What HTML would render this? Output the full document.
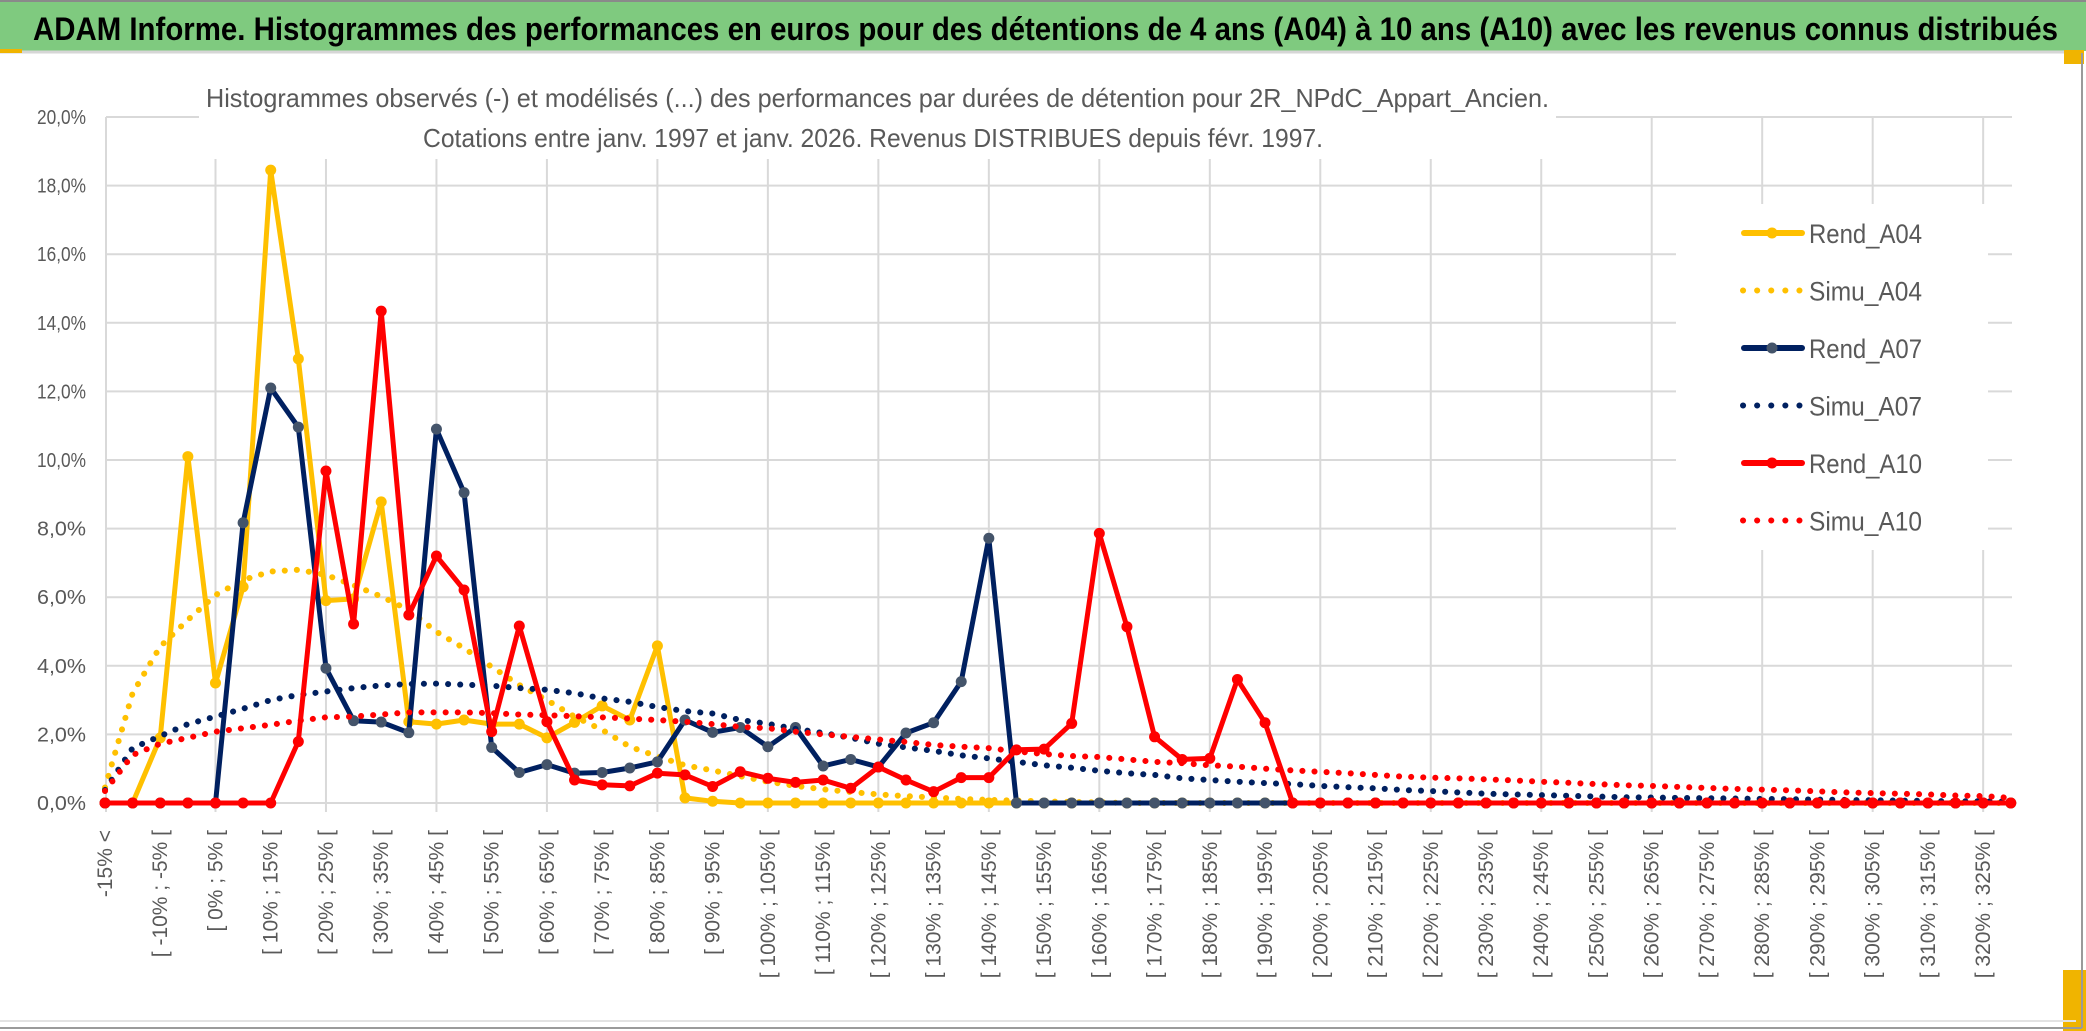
<!DOCTYPE html>
<html><head><meta charset="utf-8"><style>
html,body{margin:0;padding:0;background:#fff;}
svg{display:block;font-family:"Liberation Sans",sans-serif;}
</style></head><body>
<svg id="chart" width="2086" height="1031" viewBox="0 0 2086 1031">
<rect x="0" y="0" width="2086" height="1031" fill="#ffffff"/>
<rect x="0" y="0" width="2086" height="51" fill="#7fca7f"/>
<line x1="0" y1="1" x2="2086" y2="1" stroke="#8a8a8a" stroke-width="2"/>
<line x1="0" y1="52" x2="2082" y2="52" stroke="#d6d6d6" stroke-width="3"/>
<rect x="0" y="49" width="22" height="4" fill="#f0b400"/>
<rect x="2064" y="50" width="20" height="14" fill="#f0b400"/>
<rect x="2063" y="970" width="23" height="61" fill="#f0b400"/>
<line x1="2082" y1="53" x2="2082" y2="1028" stroke="#9a9a9a" stroke-width="2"/>
<line x1="0" y1="1028" x2="2082" y2="1028" stroke="#9a9a9a" stroke-width="2"/>
<line x1="0" y1="1021" x2="2076" y2="1021" stroke="#e2e2e2" stroke-width="2"/>
<text x="33" y="40" font-size="32" font-weight="bold" fill="#000" textLength="2025" lengthAdjust="spacingAndGlyphs">ADAM Informe. Histogrammes des performances en euros pour des détentions de 4 ans (A04) à 10 ans (A10) avec les revenus connus distribués</text>
<g id="grid"></g>
<rect x="199" y="60" width="1357" height="99" fill="#fff"/>
<text x="206" y="107" font-size="26" fill="#595959" textLength="1343" lengthAdjust="spacingAndGlyphs">Histogrammes observés (-) et modélisés (...) des performances par durées de détention pour 2R_NPdC_Appart_Ancien.</text>
<text x="423" y="147" font-size="26" fill="#595959" textLength="900" lengthAdjust="spacingAndGlyphs">Cotations entre janv. 1997 et janv. 2026. Revenus DISTRIBUES depuis févr. 1997.</text>
<g id="yaxis"></g>
<g id="xaxis"></g>
<g id="series"></g>
<g id="legend"></g>
</svg>
<script>
const categoryCount = 70;
const yTicks = [0,2,4,6,8,10,12,14,16,18,20];
const rendA04 = [0,0,1.9,10.1,3.5,6.3,18.45,12.95,5.9,5.95,8.78,2.37,2.3,2.42,2.3,2.3,1.9,2.35,2.83,2.42,4.58,0.15,0.05];
const simuA04 = [0.45,3.2,4.56,5.34,6.06,6.5,6.75,6.8,6.65,6.35,6.02,5.63,4.99,4.51,3.97,3.44,3.0,2.52,2.13,1.64,1.36,1.1,0.95,0.78,0.62,0.5,0.4,0.32,0.25,0.2,0.16,0.12,0.09,0.07,0.05,0.03,0.02];
const rendA07 = [0,0,0,0,0,8.17,12.1,10.96,3.93,2.4,2.36,2.05,10.9,9.05,1.62,0.89,1.12,0.87,0.89,1.02,1.2,2.42,2.06,2.2,1.64,2.2,1.08,1.27,1.05,2.04,2.34,3.54,7.72,0];
const simuA07 = [0.38,1.6,1.95,2.3,2.52,2.75,3.0,3.15,3.25,3.35,3.43,3.47,3.48,3.45,3.42,3.35,3.3,3.2,3.05,2.95,2.8,2.68,2.61,2.42,2.31,2.16,2.04,1.9,1.73,1.62,1.52,1.39,1.3,1.2,1.1,1.03,0.94,0.87,0.82,0.72,0.67,0.62,0.58,0.55,0.5,0.46,0.43,0.38,0.35,0.31,0.27,0.25,0.23,0.21,0.19,0.17,0.16,0.15,0.14,0.13,0.12,0.11,0.1,0.09,0.08,0.07,0.06,0.05,0.05,0.04];
const rendA10 = [0,0,0,0,0,0,0,1.79,9.68,5.22,14.34,5.48,7.2,6.21,2.08,5.16,2.37,0.67,0.53,0.5,0.87,0.82,0.48,0.91,0.72,0.6,0.67,0.43,1.05,0.67,0.33,0.74,0.74,1.55,1.57,2.32,7.86,5.14,1.93,1.27,1.3,3.6,2.34,0];
const simuA10 = [0.35,1.4,1.73,1.9,2.08,2.18,2.28,2.4,2.5,2.52,2.58,2.64,2.64,2.64,2.62,2.58,2.56,2.53,2.5,2.46,2.42,2.37,2.3,2.22,2.18,2.08,2.0,1.93,1.85,1.78,1.69,1.64,1.6,1.5,1.43,1.37,1.34,1.27,1.2,1.16,1.1,1.06,1.0,0.95,0.91,0.87,0.82,0.77,0.74,0.72,0.69,0.66,0.62,0.59,0.55,0.52,0.5,0.47,0.44,0.41,0.39,0.37,0.34,0.31,0.29,0.27,0.25,0.22,0.2,0.15];

const NS='http://www.w3.org/2000/svg';
const X0=105, DX=27.62, Y0=803, YTOP=117;
function xPos(i){return X0+DX*i;}
function yPos(v){return Y0-(v/20)*(Y0-YTOP);}
function el(tag,attrs,parent){const e=document.createElementNS(NS,tag);for(const k in attrs)e.setAttribute(k,attrs[k]);parent.appendChild(e);return e;}
function full(arr){const a=[];for(let i=0;i<categoryCount;i++)a.push(i<arr.length?arr[i]:0);return a;}
function catLabel(i){if(i===0)return '-15% <';const lo=-15+5*(i-1);return '[ '+lo+'% ; '+(lo+5)+'% [';}

const grid=document.getElementById('grid');
yTicks.forEach(t=>{
  const l=el('line',{x1:106,x2:2012,y1:yPos(t),y2:yPos(t),stroke:'#d9d9d9','stroke-width':2},grid);
  
  
});
for(let i=0;i<categoryCount;i+=4){
  const l=el('line',{x1:xPos(i)+(i===0?1:0),x2:xPos(i)+(i===0?1:0),y1:YTOP,y2:Y0+9,stroke:'#d9d9d9','stroke-width':2},grid);
  
  
}
const yaxis=document.getElementById('yaxis');
yTicks.forEach(t=>{
  const tx=el('text',{x:86,y:yPos(t)+7,'font-size':20,fill:'#595959','text-anchor':'end',textLength:49,lengthAdjust:'spacingAndGlyphs'},yaxis);
  tx.textContent=t.toFixed(1).replace('.',',')+'%';
  
  
});
const xaxis=document.getElementById('xaxis');
for(let i=0;i<categoryCount-1;i+=2){
  const x=xPos(i)+7, y=830;
  const tx=el('text',{x:x,y:y,'font-size':21,fill:'#595959','text-anchor':'end',transform:'rotate(-90 '+x+' '+y+')'},xaxis);
  tx.textContent=catLabel(i);
  
  
}
// legend box
const legend=document.getElementById('legend');
const lb=el('rect',{x:1676,y:204,width:312,height:346,fill:'#fff'},legend);



const seriesG=document.getElementById('series');
const specs=[
 {name:'Rend_A04',data:rendA04,color:'#ffc000',marker:'#ffc000',dotted:false},
 {name:'Simu_A04',data:simuA04,color:'#ffc000',dotted:true},
 {name:'Rend_A07',data:rendA07,color:'#002060',marker:'#44546a',dotted:false},
 {name:'Simu_A07',data:simuA07,color:'#002060',dotted:true},
 {name:'Rend_A10',data:rendA10,color:'#ff0000',marker:'#ff0000',dotted:false},
 {name:'Simu_A10',data:simuA10,color:'#ff0000',dotted:true}
];
specs.forEach((s,si)=>{
  const vals=full(s.data);
  const g=el('g',{},seriesG);
  
  
  const pts=vals.map((v,i)=>xPos(i).toFixed(1)+','+yPos(v).toFixed(1)).join(' ');
  const pl=el('polyline',{points:pts,fill:'none',stroke:s.color,'stroke-width':s.dotted?6:5,'stroke-linejoin':'round','stroke-linecap':'round'},g);
  if(s.dotted){pl.setAttribute('stroke-dasharray','0.1 12');}
  
  
  if(!s.dotted){
    vals.forEach((v,i)=>{
      const c=el('circle',{cx:xPos(i),cy:yPos(v),r:5.5,fill:s.marker},g);
      
      
    });
  }
  // legend entry
  const ly=233+si*57.5;
  const le=el('g',{},legend);
  
  
  if(s.dotted){
    const dl=el('line',{x1:1743,x2:1800,y1:ly,y2:ly,stroke:s.color,'stroke-width':6,'stroke-linecap':'round','stroke-dasharray':'0.1 14'},le);
    
    
  } else {
    const sl=el('line',{x1:1744,x2:1802,y1:ly,y2:ly,stroke:s.color,'stroke-width':6,'stroke-linecap':'round'},le);
    
    
    const sc=el('circle',{cx:1772,cy:ly,r:5.5,fill:s.marker},le);
    
    
  }
  const lt=el('text',{x:1809,y:ly+10,'font-size':27,fill:'#595959',textLength:113,lengthAdjust:'spacingAndGlyphs'},le);
  lt.textContent=s.name;
  
  
});
</script>
</body></html>
